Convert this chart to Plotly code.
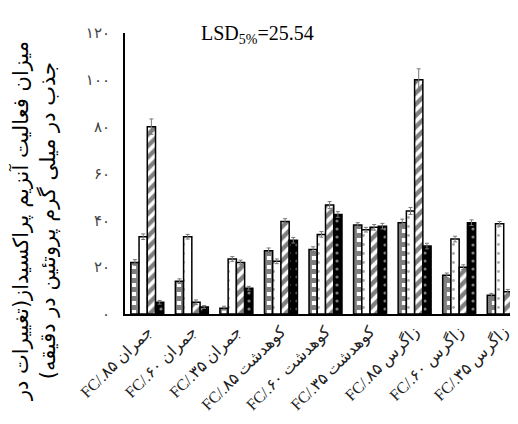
import plotly.graph_objects as go

cultivars = ["جمران", "جمران", "جمران", "کوهدشت", "کوهدشت", "کوهدشت", "زاگرس", "زاگرس", "زاگرس"]
fc_levels = ["FC/.۸۵", "FC/.۶۰", "FC/.۳۵", "FC/.۸۵", "FC/.۶۰", "FC/.۳۵", "FC/.۸۵", "FC/.۶۰", "FC/.۳۵"]
categories = [f"{f} {c}" for f, c in zip(fc_levels, cultivars)]

s1 = [22, 14, 2.5, 27, 27.5, 38, 39, 16.5, 8]
s2 = [33, 33, 23.5, 22.5, 34, 36, 44, 32, 38.5]
s3 = [80, 5, 22, 39.5, 46.5, 37, 100, 20, 9.5]
s4 = [5, 3, 11, 31.5, 42.5, 37.5, 29, 39, 9]

e1 = [1.2, 1.0, 0.8, 1.2, 1.2, 1.0, 1.5, 1.0, 0.8]
e2 = [1.2, 1.0, 1.0, 1.0, 1.2, 1.0, 1.5, 1.2, 1.0]
e3 = [3.3, 1.0, 1.0, 1.2, 1.5, 1.2, 4.7, 1.0, 1.0]
e4 = [0.8, 0.6, 0.8, 1.2, 1.2, 1.2, 1.2, 1.2, 0.8]

y_tickvals = [0, 20, 40, 60, 80, 100, 120]
y_ticktext = ["۰", "۲۰", "۴۰", "۶۰", "۸۰", "۱۰۰", "۱۲۰"]

y_title = "\u200fمیزان فعالیت آنزیم پراکسیداز(تغییرات در<br>\u200fجذب در میلی گرم پروتئین در دقیقه)\u200f"
lsd_text = "LSD<sub>5%</sub>=25.54"

styles = [
    dict(color="black", pattern=dict(shape="+", fgcolor="black", bgcolor="white", size=9, solidity=0.78)),
    dict(color="white", pattern=dict(shape=".", fgcolor="#555", bgcolor="white", size=9, solidity=0.08)),
    dict(color="white", pattern=dict(shape="/", fgcolor="black", bgcolor="white", size=8, solidity=0.55)),
    dict(color="black", pattern=dict(shape=".", fgcolor="white", bgcolor="black", size=8, solidity=0.12)),
]

fig = go.Figure()
for vals, errs, st in zip([s1, s2, s3, s4], [e1, e2, e3, e4], styles):
    fig.add_trace(go.Bar(
        x=categories, y=vals,
        marker=dict(color=st["color"], pattern=st["pattern"], line=dict(color="black", width=1.5)),
        error_y=dict(type="data", array=errs, visible=True, color="#777", thickness=1, width=2),
        showlegend=False,
    ))

fig.update_layout(
    width=518, height=424,
    margin=dict(l=117, r=0, t=25, b=118),
    paper_bgcolor="white", plot_bgcolor="white",
    barmode="group", bargap=0.26, bargroupgap=0,
    font=dict(family="Liberation Serif, DejaVu Sans", color="black"),
    xaxis=dict(
        showline=True, linecolor="black", linewidth=2, showgrid=False,
        tickangle=-45, tickfont=dict(size=16, family="Liberation Serif, DejaVu Sans", color="#222"),
        ticks="",
    ),
    yaxis=dict(
        range=[0, 120], showline=True, linecolor="black", linewidth=2, showgrid=False,
        zeroline=False, tickvals=y_tickvals, ticktext=y_ticktext, ticks="",
        tickfont=dict(size=15, family="DejaVu Sans", color="#444"),
        ticklabelstandoff=10,
    ),
    annotations=[
        dict(text=y_title, textangle=-90, xref="paper", yref="paper",
             x=-0.19, y=0.33, xanchor="center", yanchor="middle", xshift=-15, showarrow=False,
             font=dict(size=21, family="DejaVu Sans", color="black")),
        dict(text=lsd_text, xref="paper", yref="paper", x=0.33, y=0.995,
             xanchor="center", yanchor="middle",
             showarrow=False, font=dict(size=20, family="Liberation Serif", color="black")),
    ],
)

fig.write_html("out.html")
